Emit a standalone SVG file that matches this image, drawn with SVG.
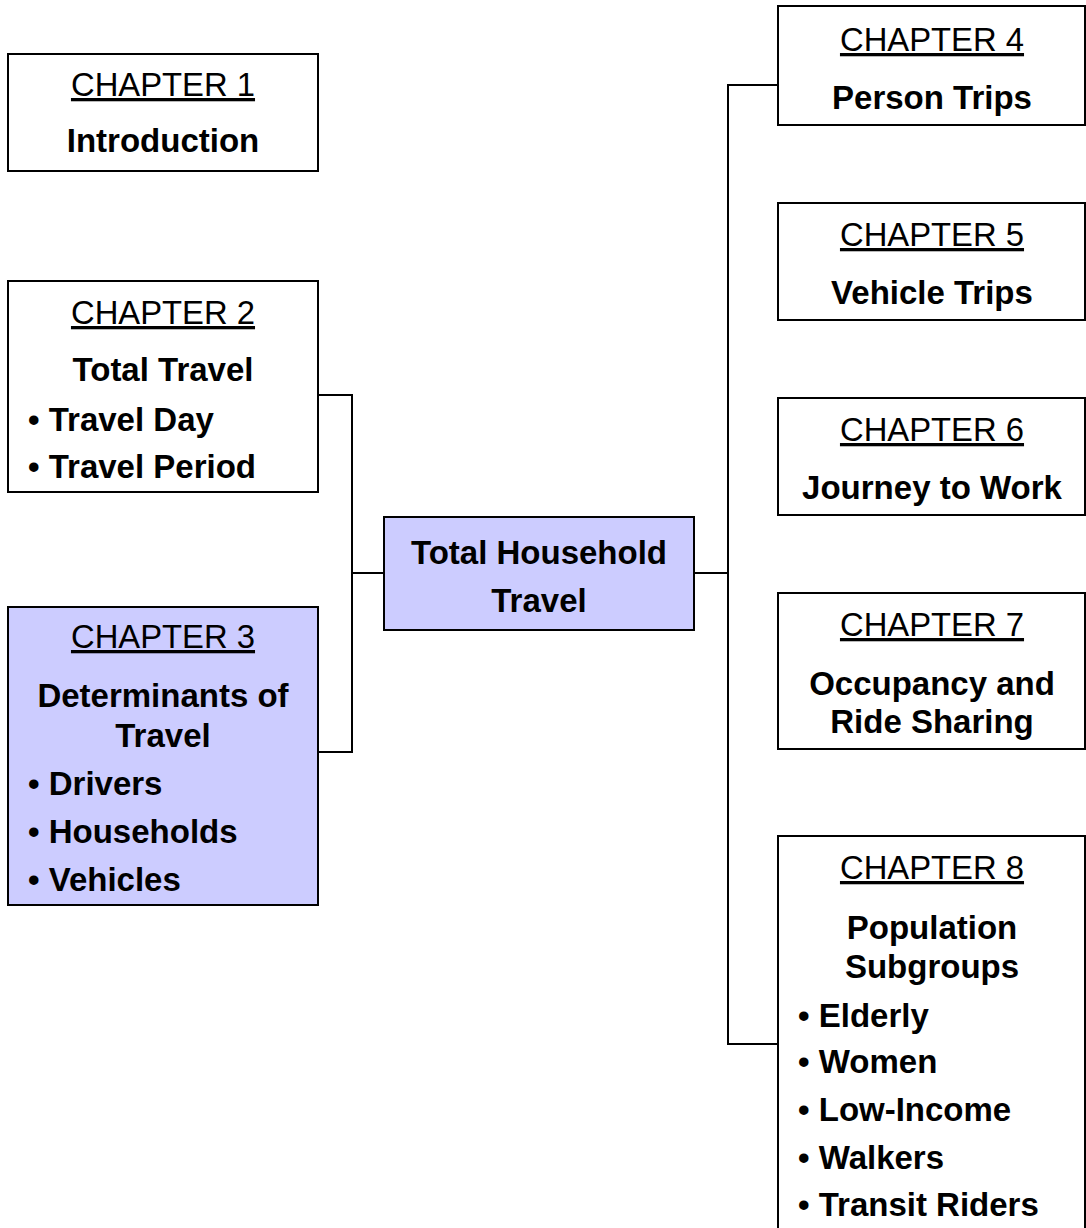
<svg xmlns="http://www.w3.org/2000/svg" width="1086" height="1228" viewBox="0 0 1086 1228">
<style>
.box{fill:#ffffff;stroke:#000;stroke-width:2}
.hl{fill:#ccccff;stroke:#000;stroke-width:2}
.ch{font-family:"Liberation Sans",Arial,sans-serif;font-size:32.8px;text-anchor:middle;text-decoration:underline;fill:#000}
.t{font-family:"Liberation Sans",Arial,sans-serif;font-size:33px;font-weight:bold;text-anchor:middle;fill:#000}
.b{font-family:"Liberation Sans",Arial,sans-serif;font-size:33px;font-weight:bold;fill:#000}
.c{fill:none;stroke:#000;stroke-width:2}
</style>
<rect width="1086" height="1228" fill="#fff"/>
<g id="connectors">
<polyline class="c" points="318,395 352,395 352,752 318,752"/>
<line class="c" x1="352" y1="573" x2="384" y2="573"/>
<line class="c" x1="694" y1="573" x2="728" y2="573"/>
<polyline class="c" points="778,85 728,85 728,1044 778,1044"/>
</g>
<g id="ch1">
<rect class="box" x="8" y="54" width="310" height="117"/>
<text class="ch" x="163" y="96">CHAPTER 1</text>
<text class="t" x="163" y="152">Introduction</text>
</g>
<g id="ch2">
<rect class="box" x="8" y="281" width="310" height="211"/>
<text class="ch" x="163" y="324">CHAPTER 2</text>
<text class="t" x="163" y="381">Total Travel</text>
<text class="b" x="28" y="431">• Travel Day</text>
<text class="b" x="28" y="478">• Travel Period</text>
</g>
<g id="ch3">
<rect class="hl" x="8" y="607" width="310" height="298"/>
<text class="ch" x="163" y="648">CHAPTER 3</text>
<text class="t" x="163" y="707">Determinants of</text>
<text class="t" x="163" y="747">Travel</text>
<text class="b" x="28" y="795">• Drivers</text>
<text class="b" x="28" y="843">• Households</text>
<text class="b" x="28" y="891">• Vehicles</text>
</g>
<g id="center">
<rect class="hl" x="384" y="517" width="310" height="113"/>
<text class="t" x="539" y="564">Total Household</text>
<text class="t" x="539" y="612">Travel</text>
</g>
<g id="ch4">
<rect class="box" x="778" y="6" width="307" height="119"/>
<text class="ch" x="932" y="51">CHAPTER 4</text>
<text class="t" x="932" y="109">Person Trips</text>
</g>
<g id="ch5">
<rect class="box" x="778" y="203" width="307" height="117"/>
<text class="ch" x="932" y="246">CHAPTER 5</text>
<text class="t" x="932" y="304">Vehicle Trips</text>
</g>
<g id="ch6">
<rect class="box" x="778" y="398" width="307" height="117"/>
<text class="ch" x="932" y="441">CHAPTER 6</text>
<text class="t" x="932" y="499">Journey to Work</text>
</g>
<g id="ch7">
<rect class="box" x="778" y="593" width="307" height="156"/>
<text class="ch" x="932" y="636">CHAPTER 7</text>
<text class="t" x="932" y="695">Occupancy and</text>
<text class="t" x="932" y="733">Ride Sharing</text>
</g>
<g id="ch8">
<rect class="box" x="778" y="836" width="307" height="420"/>
<text class="ch" x="932" y="879">CHAPTER 8</text>
<text class="t" x="932" y="939">Population</text>
<text class="t" x="932" y="978">Subgroups</text>
<text class="b" x="798" y="1027">• Elderly</text>
<text class="b" x="798" y="1073">• Women</text>
<text class="b" x="798" y="1121">• Low-Income</text>
<text class="b" x="798" y="1169">• Walkers</text>
<text class="b" x="798" y="1216">• Transit Riders</text>
</g>
</svg>
